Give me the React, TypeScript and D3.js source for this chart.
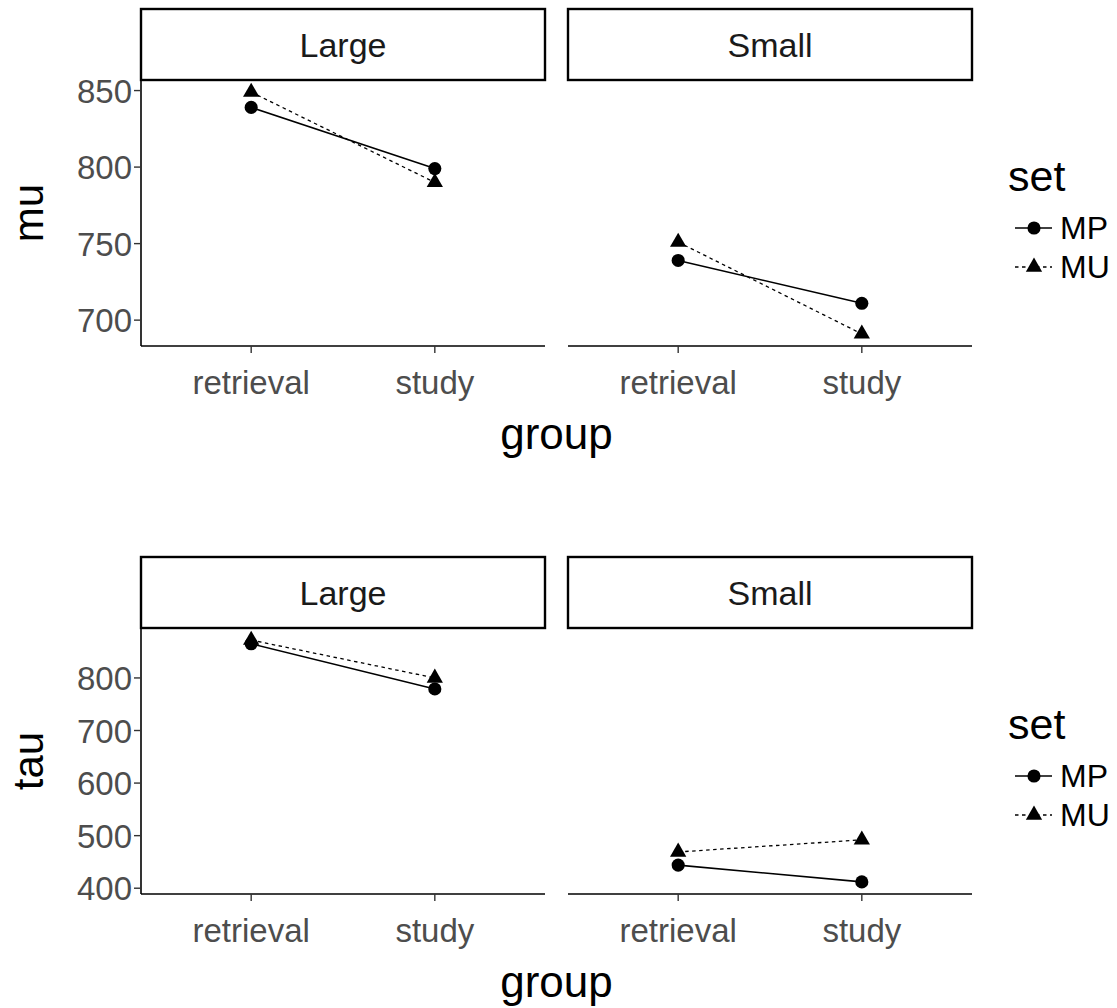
import React from "react";
import * as d3 from "d3";

// categories
const groups = ["retrieval", "study"];
const facets = ["Large", "Small"];
const sets = ["MP", "MU"];

// mu values, [retrieval, study]
const muLargeMP = [839, 799];
const muLargeMU = [849, 790];
const muSmallMP = [739, 711];
const muSmallMU = [751, 691];

// tau values, [retrieval, study]
const tauLargeMP = [865, 779];
const tauLargeMU = [872, 800];
const tauSmallMP = [444, 412];
const tauSmallMU = [469, 492];

const muTicks = [700, 750, 800, 850];
const tauTicks = [400, 500, 600, 700, 800];

const FONT = "'Liberation Sans', Arial, sans-serif";
const W = 1117;
const H = 1008;

const panelX = [141, 568];
const panelW = 404;
const stripH = 71;
const panelH = 266;

const circlePath = d3.symbol(d3.symbolCircle, 135)() as string;
const trianglePath = d3.symbol(d3.symbolTriangle, 115)() as string;

type Series = { [facet: string]: { [set: string]: number[] } };

function FacetPlot({
  top,
  data,
  ticks,
  yLabel,
}: {
  top: number;
  data: Series;
  ticks: number[];
  yLabel: string;
}) {
  const panelTop = top + stripH;
  const panelBottom = panelTop + panelH;

  const all = facets.flatMap((f) => sets.flatMap((s) => data[f][s]));
  const [lo, hi] = d3.extent(all) as [number, number];
  const pad = (hi - lo) * 0.05;
  const y = d3
    .scaleLinear()
    .domain([lo - pad, hi + pad])
    .range([panelBottom, panelTop]);

  const lineGen = (x: d3.ScalePoint<string>) =>
    d3
      .line<number>()
      .x((_, i) => x(groups[i]) as number)
      .y((v) => y(v));

  const legendTop = top + 173;

  return (
    <g>
      {facets.map((f, fi) => {
        const x0 = panelX[fi];
        const x = d3
          .scalePoint<string>()
          .domain(groups)
          .range([x0, x0 + panelW])
          .padding(0.6);
        const ln = lineGen(x);
        return (
          <g key={f}>
            {/* strip */}
            <rect
              x={x0}
              y={top}
              width={panelW}
              height={stripH}
              fill="white"
              stroke="black"
              strokeWidth={2.4}
            />
            <text
              x={x0 + panelW / 2}
              y={top + stripH / 2 + 12}
              textAnchor="middle"
              fontSize={34}
              fill="#1a1a1a"
            >
              {f}
            </text>
            {/* x axis */}
            <line
              x1={x0}
              x2={x0 + panelW}
              y1={panelBottom}
              y2={panelBottom}
              stroke="black"
              strokeWidth={1.6}
            />
            {groups.map((g) => (
              <g key={g}>
                <line
                  x1={x(g)}
                  x2={x(g)}
                  y1={panelBottom}
                  y2={panelBottom + 7}
                  stroke="#333"
                  strokeWidth={1.4}
                />
                <text
                  x={x(g)}
                  y={panelBottom + 48}
                  textAnchor="middle"
                  fontSize={33}
                  fill="#4d4d4d"
                >
                  {g}
                </text>
              </g>
            ))}
            {/* series */}
            <path
              d={ln(data[f].MP) as string}
              fill="none"
              stroke="black"
              strokeWidth={1.6}
            />
            <path
              d={ln(data[f].MU) as string}
              fill="none"
              stroke="black"
              strokeWidth={1.3}
              strokeDasharray="3.5,3.5"
            />
            {groups.map((g, i) => (
              <g key={g}>
                <path
                  d={circlePath}
                  transform={`translate(${x(g)},${y(data[f].MP[i])})`}
                  fill="black"
                />
                <path
                  d={trianglePath}
                  transform={`translate(${x(g)},${y(data[f].MU[i])})`}
                  fill="black"
                />
              </g>
            ))}
          </g>
        );
      })}

      {/* y axis on the left panel */}
      <line
        x1={panelX[0]}
        x2={panelX[0]}
        y1={panelTop}
        y2={panelBottom}
        stroke="black"
        strokeWidth={1.6}
      />
      {ticks.map((t) => (
        <g key={t}>
          <line
            x1={panelX[0] - 7}
            x2={panelX[0]}
            y1={y(t)}
            y2={y(t)}
            stroke="#333"
            strokeWidth={1.4}
          />
          <text
            x={panelX[0] - 9}
            y={y(t) + 12}
            textAnchor="end"
            fontSize={33}
            fill="#4d4d4d"
          >
            {t}
          </text>
        </g>
      ))}

      {/* axis titles */}
      <text
        transform={`translate(43,${(panelTop + panelBottom) / 2}) rotate(-90)`}
        textAnchor="middle"
        fontSize={42}
        fill="black"
      >
        {yLabel}
      </text>
      <text
        x={(panelX[0] + panelX[1] + panelW) / 2}
        y={panelBottom + 103}
        textAnchor="middle"
        fontSize={44}
        fill="black"
      >
        group
      </text>

      {/* legend */}
      <text x={1008} y={legendTop + 9} fontSize={43} fill="black">
        set
      </text>
      {sets.map((s, i) => {
        const cy = legendTop + 46 + i * 39;
        return (
          <g key={s}>
            <line
              x1={1015}
              x2={1052}
              y1={cy}
              y2={cy}
              stroke="black"
              strokeWidth={i === 0 ? 1.6 : 1.3}
              strokeDasharray={i === 0 ? undefined : "3.5,3.5"}
            />
            <path
              d={i === 0 ? circlePath : trianglePath}
              transform={`translate(1034,${cy})`}
              fill="black"
            />
            <text x={1060} y={cy + 11} fontSize={32} fill="black">
              {s}
            </text>
          </g>
        );
      })}
    </g>
  );
}

export default function App() {
  const muData: Series = {
    Large: { MP: muLargeMP, MU: muLargeMU },
    Small: { MP: muSmallMP, MU: muSmallMU },
  };
  const tauData: Series = {
    Large: { MP: tauLargeMP, MU: tauLargeMU },
    Small: { MP: tauSmallMP, MU: tauSmallMU },
  };
  return (
    <div style={{ position: "absolute", left: 0, top: 0 }}>
      <svg width={W} height={H} style={{ display: "block", fontFamily: FONT }}>
        <rect width={W} height={H} fill="white" />
        <FacetPlot top={9} data={muData} ticks={muTicks} yLabel="mu" />
        <FacetPlot top={557} data={tauData} ticks={tauTicks} yLabel="tau" />
      </svg>
    </div>
  );
}
